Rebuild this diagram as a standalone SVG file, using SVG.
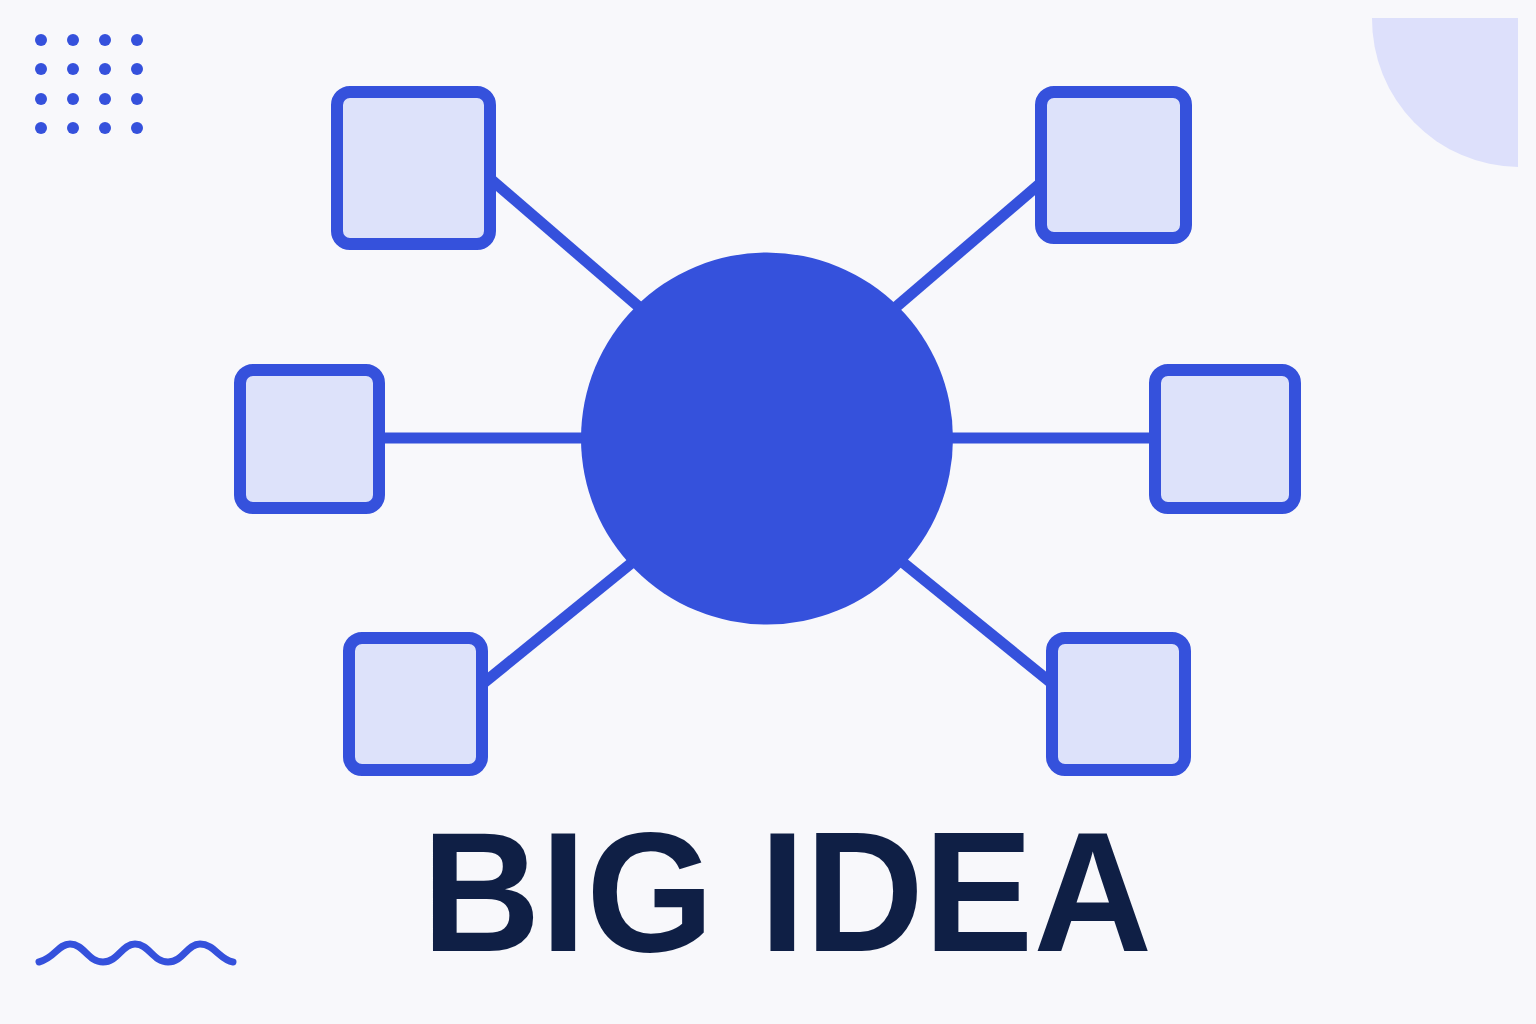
<svg xmlns="http://www.w3.org/2000/svg" width="1536" height="1024" viewBox="0 0 1536 1024">
<style>
.box{fill:#dde2fa;stroke:#3551dc;stroke-width:12}
.link{stroke:#3551dc;stroke-width:11;fill:none}
.dot{fill:#3551dc}
.title{font-family:"Liberation Sans",Arial,sans-serif;font-weight:bold;font-size:171px;fill:#0f1f45}
</style>
<rect width="1536" height="1024" fill="#f8f8fb"/>
<g id="decor">
<g class="dot">
<circle cx="41" cy="40" r="6"/><circle cx="73" cy="40" r="6"/><circle cx="105" cy="40" r="6"/><circle cx="137" cy="40" r="6"/>
<circle cx="41" cy="69" r="6"/><circle cx="73" cy="69" r="6"/><circle cx="105" cy="69" r="6"/><circle cx="137" cy="69" r="6"/>
<circle cx="41" cy="99" r="6"/><circle cx="73" cy="99" r="6"/><circle cx="105" cy="99" r="6"/><circle cx="137" cy="99" r="6"/>
<circle cx="41" cy="128" r="6"/><circle cx="73" cy="128" r="6"/><circle cx="105" cy="128" r="6"/><circle cx="137" cy="128" r="6"/>
</g>
<path d="M1372 18 H1518 V167 A148 148 0 0 1 1372 18 Z" fill="#dde0fb"/>
<path d="M39 962 C55 958 58 944 70 944 C84 944 88 962 103 962 C118 962 122 944 135 944 C149 944 153 962 168 962 C183 962 187 944 200 944 C214 944 220 960 233 962" fill="none" stroke="#3551dc" stroke-width="7" stroke-linecap="round"/>
</g>
<g id="connectors">
<line class="link" x1="480" y1="170" x2="660" y2="325"/>
<line class="link" x1="1050" y1="175" x2="875" y2="325"/>
<line class="link" x1="375" y1="438" x2="600" y2="438"/>
<line class="link" x1="935" y1="438" x2="1160" y2="438"/>
<line class="link" x1="475" y1="690" x2="650" y2="548"/>
<line class="link" x1="1060" y1="690" x2="885" y2="548"/>
</g>
<g id="center"><circle cx="767" cy="438.5" r="186" fill="#3551dc"/></g>
<g id="node-tl"><rect class="box" x="337" y="92" width="153" height="152" rx="13"/></g>
<g id="node-tr"><rect class="box" x="1041" y="92" width="145" height="146" rx="13"/></g>
<g id="node-ml"><rect class="box" x="240" y="370" width="139" height="138" rx="13"/></g>
<g id="node-mr"><rect class="box" x="1155" y="370" width="140" height="138" rx="13"/></g>
<g id="node-bl"><rect class="box" x="349" y="638" width="133" height="132" rx="13"/></g>
<g id="node-br"><rect class="box" x="1052" y="638" width="133" height="132" rx="13"/></g>
<g id="title"><text class="title" x="422" y="951" textLength="730" lengthAdjust="spacingAndGlyphs">BIG IDEA</text></g>
</svg>
